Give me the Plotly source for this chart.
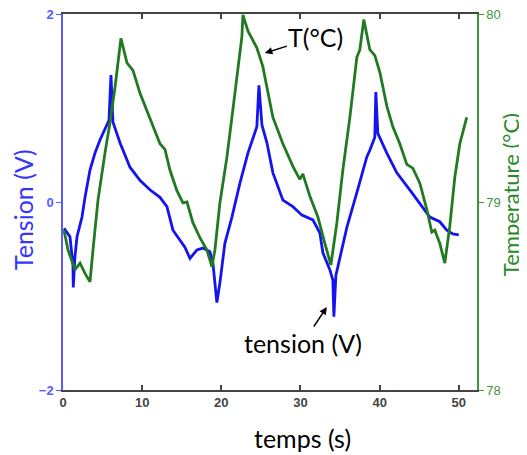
import plotly.graph_objects as go

# tension (V) vs temps (s)
t_v = [0.13, 0.88, 1.26, 1.30, 1.50, 1.77, 2.40, 2.78, 3.41, 4.04, 4.67, 5.30, 5.81, 6.06, 6.31,
       7.20, 8.46, 9.72, 10.98, 12.25, 13.13, 13.89, 14.77, 15.40, 16.04, 16.92, 17.68, 18.56,
       18.94, 19.44, 19.82, 20.45, 21.34, 22.35, 23.36, 24.49, 24.75, 25.13, 25.76, 26.52,
       27.78, 29.04, 30.18, 31.57, 32.45, 32.83, 33.71, 34.09, 34.22, 34.47, 34.72, 35.86,
       37.12, 38.38, 38.76, 39.39, 39.52, 39.77, 40.91, 42.17, 43.81, 45.08, 46.34, 47.60,
       48.48, 49.24, 50.00]
tension = [-0.28, -0.37, -0.67, -0.91, -0.59, -0.37, -0.16, 0.05, 0.34, 0.52, 0.66, 0.77, 0.87,
           1.35, 0.85, 0.63, 0.37, 0.23, 0.13, 0.05, -0.05, -0.30, -0.40, -0.48, -0.60, -0.51,
           -0.49, -0.53, -0.65, -1.07, -0.86, -0.44, -0.16, 0.20, 0.52, 0.80, 1.24, 0.82, 0.63,
           0.31, 0.02, -0.05, -0.14, -0.19, -0.33, -0.54, -0.72, -0.83, -1.22, -0.78, -0.69,
           -0.27, 0.10, 0.48, 0.55, 0.69, 1.17, 0.73, 0.52, 0.31, 0.13, -0.01, -0.16, -0.21,
           -0.30, -0.34, -0.35]

# Temperature (°C) vs temps (s)
t_T = [0.13, 0.63, 1.52, 2.15, 2.78, 3.41, 3.79, 4.42, 5.30, 5.93, 6.57, 7.32, 8.08, 8.84, 9.72,
       10.98, 12.25, 12.88, 13.51, 14.39, 15.15, 15.66, 16.41, 17.30, 18.18, 18.81, 19.19,
       19.82, 20.71, 21.34, 21.97, 22.60, 22.73, 23.36, 24.49, 25.25, 25.76, 26.52, 27.78,
       29.04, 29.92, 30.30, 31.19, 32.20, 33.08, 33.84, 34.60, 35.35, 36.24, 37.12, 37.50,
       38.00, 38.76, 39.39, 40.03, 40.91, 41.67, 42.55, 43.43, 44.19, 45.08, 45.96, 46.59,
       46.97, 47.60, 48.23, 48.86, 49.49, 50.13, 51.00]
temperature = [78.85, 78.745, 78.64, 78.675, 78.62, 78.575, 78.745, 79.01, 79.26, 79.42, 79.61,
               79.87, 79.74, 79.70, 79.58, 79.45, 79.31, 79.28, 79.17, 79.06, 78.995, 79.0,
               78.89, 78.81, 78.745, 78.655, 78.745, 78.995, 79.24, 79.45, 79.66, 79.88, 79.995,
               79.91, 79.82, 79.72, 79.61, 79.45, 79.31, 79.19, 79.12, 79.15, 79.03, 78.92,
               78.78, 78.665, 78.89, 79.17, 79.45, 79.77, 79.81, 79.97, 79.81, 79.78, 79.69,
               79.51, 79.40, 79.31, 79.20, 79.18, 79.10, 78.96, 78.84, 78.85, 78.78, 78.675,
               78.87, 79.13, 79.31, 79.45]

x_ticks = [0, 10, 20, 30, 40, 50]
v_ticks = [-2, 0, 2]
T_ticks = [78, 79, 80]

BLUE = "#1414f0"
GREEN = "#217a21"
TEXT_FONT = "Lato, 'Open Sans', sans-serif"
TICK_FONT = dict(family="'Liberation Sans', Arial, sans-serif", size=13)

fig = go.Figure()
fig.add_trace(go.Scatter(x=t_v, y=tension, mode="lines", line=dict(color=BLUE, width=2.8),
                         showlegend=False, yaxis="y"))
fig.add_trace(go.Scatter(x=t_T, y=temperature, mode="lines", line=dict(color=GREEN, width=2.8),
                         showlegend=False, yaxis="y2"))

# the page body adds an 8 px offset at top-left, so the figure is sized to fill the rest
fig.update_layout(
    width=519, height=447,
    margin=dict(l=55, r=50, t=6, b=65),
    paper_bgcolor="white", plot_bgcolor="white",
    xaxis=dict(range=[0, 52.3], tickvals=x_ticks, ticks="inside", ticklen=5, tickwidth=1.5,
               tickcolor="#444", showline=True, linecolor="#444", linewidth=1.5, mirror="ticks",
               showgrid=False, zeroline=False, automargin=False, ticklabeloverflow="allow",
               tickfont=dict(TICK_FONT, color="#444", weight="bold")),
    yaxis=dict(range=[-2, 2], tickvals=v_ticks, ticks="outside", ticklen=5, tickcolor="#5a5aff",
               showline=True, linecolor="#5a5aff", linewidth=1.5, showgrid=False, zeroline=False,
               automargin=False, ticklabeloverflow="allow",
               tickfont=dict(TICK_FONT, color="#5a5aff", weight="bold")),
    yaxis2=dict(range=[78, 80], tickvals=T_ticks, ticks="outside", ticklen=5, tickcolor="#3d943d",
                overlaying="y", side="right", showline=True, linecolor="#3d943d", linewidth=1.5,
                showgrid=False, zeroline=False, automargin=False, ticklabeloverflow="allow",
                tickfont=dict(TICK_FONT, color="#3d943d")),
    annotations=[
        # axis titles
        dict(x=-0.0966, y=0.4787, xref="paper", yref="paper", text="Tension (V)", textangle=-90,
             showarrow=False, xanchor="center", yanchor="middle",
             font=dict(family=TEXT_FONT, size=25, color="#3535ff")),
        dict(x=1.0800, y=0.5186, xref="paper", yref="paper", text="Temperature (°C)", textangle=-90,
             showarrow=False, xanchor="center", yanchor="middle",
             font=dict(family=TEXT_FONT, size=22, color="#2a8a2a")),
        dict(x=0.5773, y=-0.1277, xref="paper", yref="paper", text="temps (s)",
             showarrow=False, xanchor="center", yanchor="middle",
             font=dict(family=TEXT_FONT, size=25, color="black")),
        # curve labels
        dict(x=25.5, y=1.585, xref="x", yref="y", text="T(°C)", showarrow=True,
             ax=51, ay=-16, arrowhead=2, arrowsize=1, arrowwidth=1.5, arrowcolor="black",
             font=dict(family=TEXT_FONT, size=25, color="black")),
        dict(x=33.33, y=-1.117, xref="x", yref="y", text="tension (V)", showarrow=True,
             ax=-24, ay=36, arrowhead=2, arrowsize=1, arrowwidth=1.5, arrowcolor="black",
             font=dict(family=TEXT_FONT, size=25, color="black")),
    ],
)

fig.write_html("out.html")
